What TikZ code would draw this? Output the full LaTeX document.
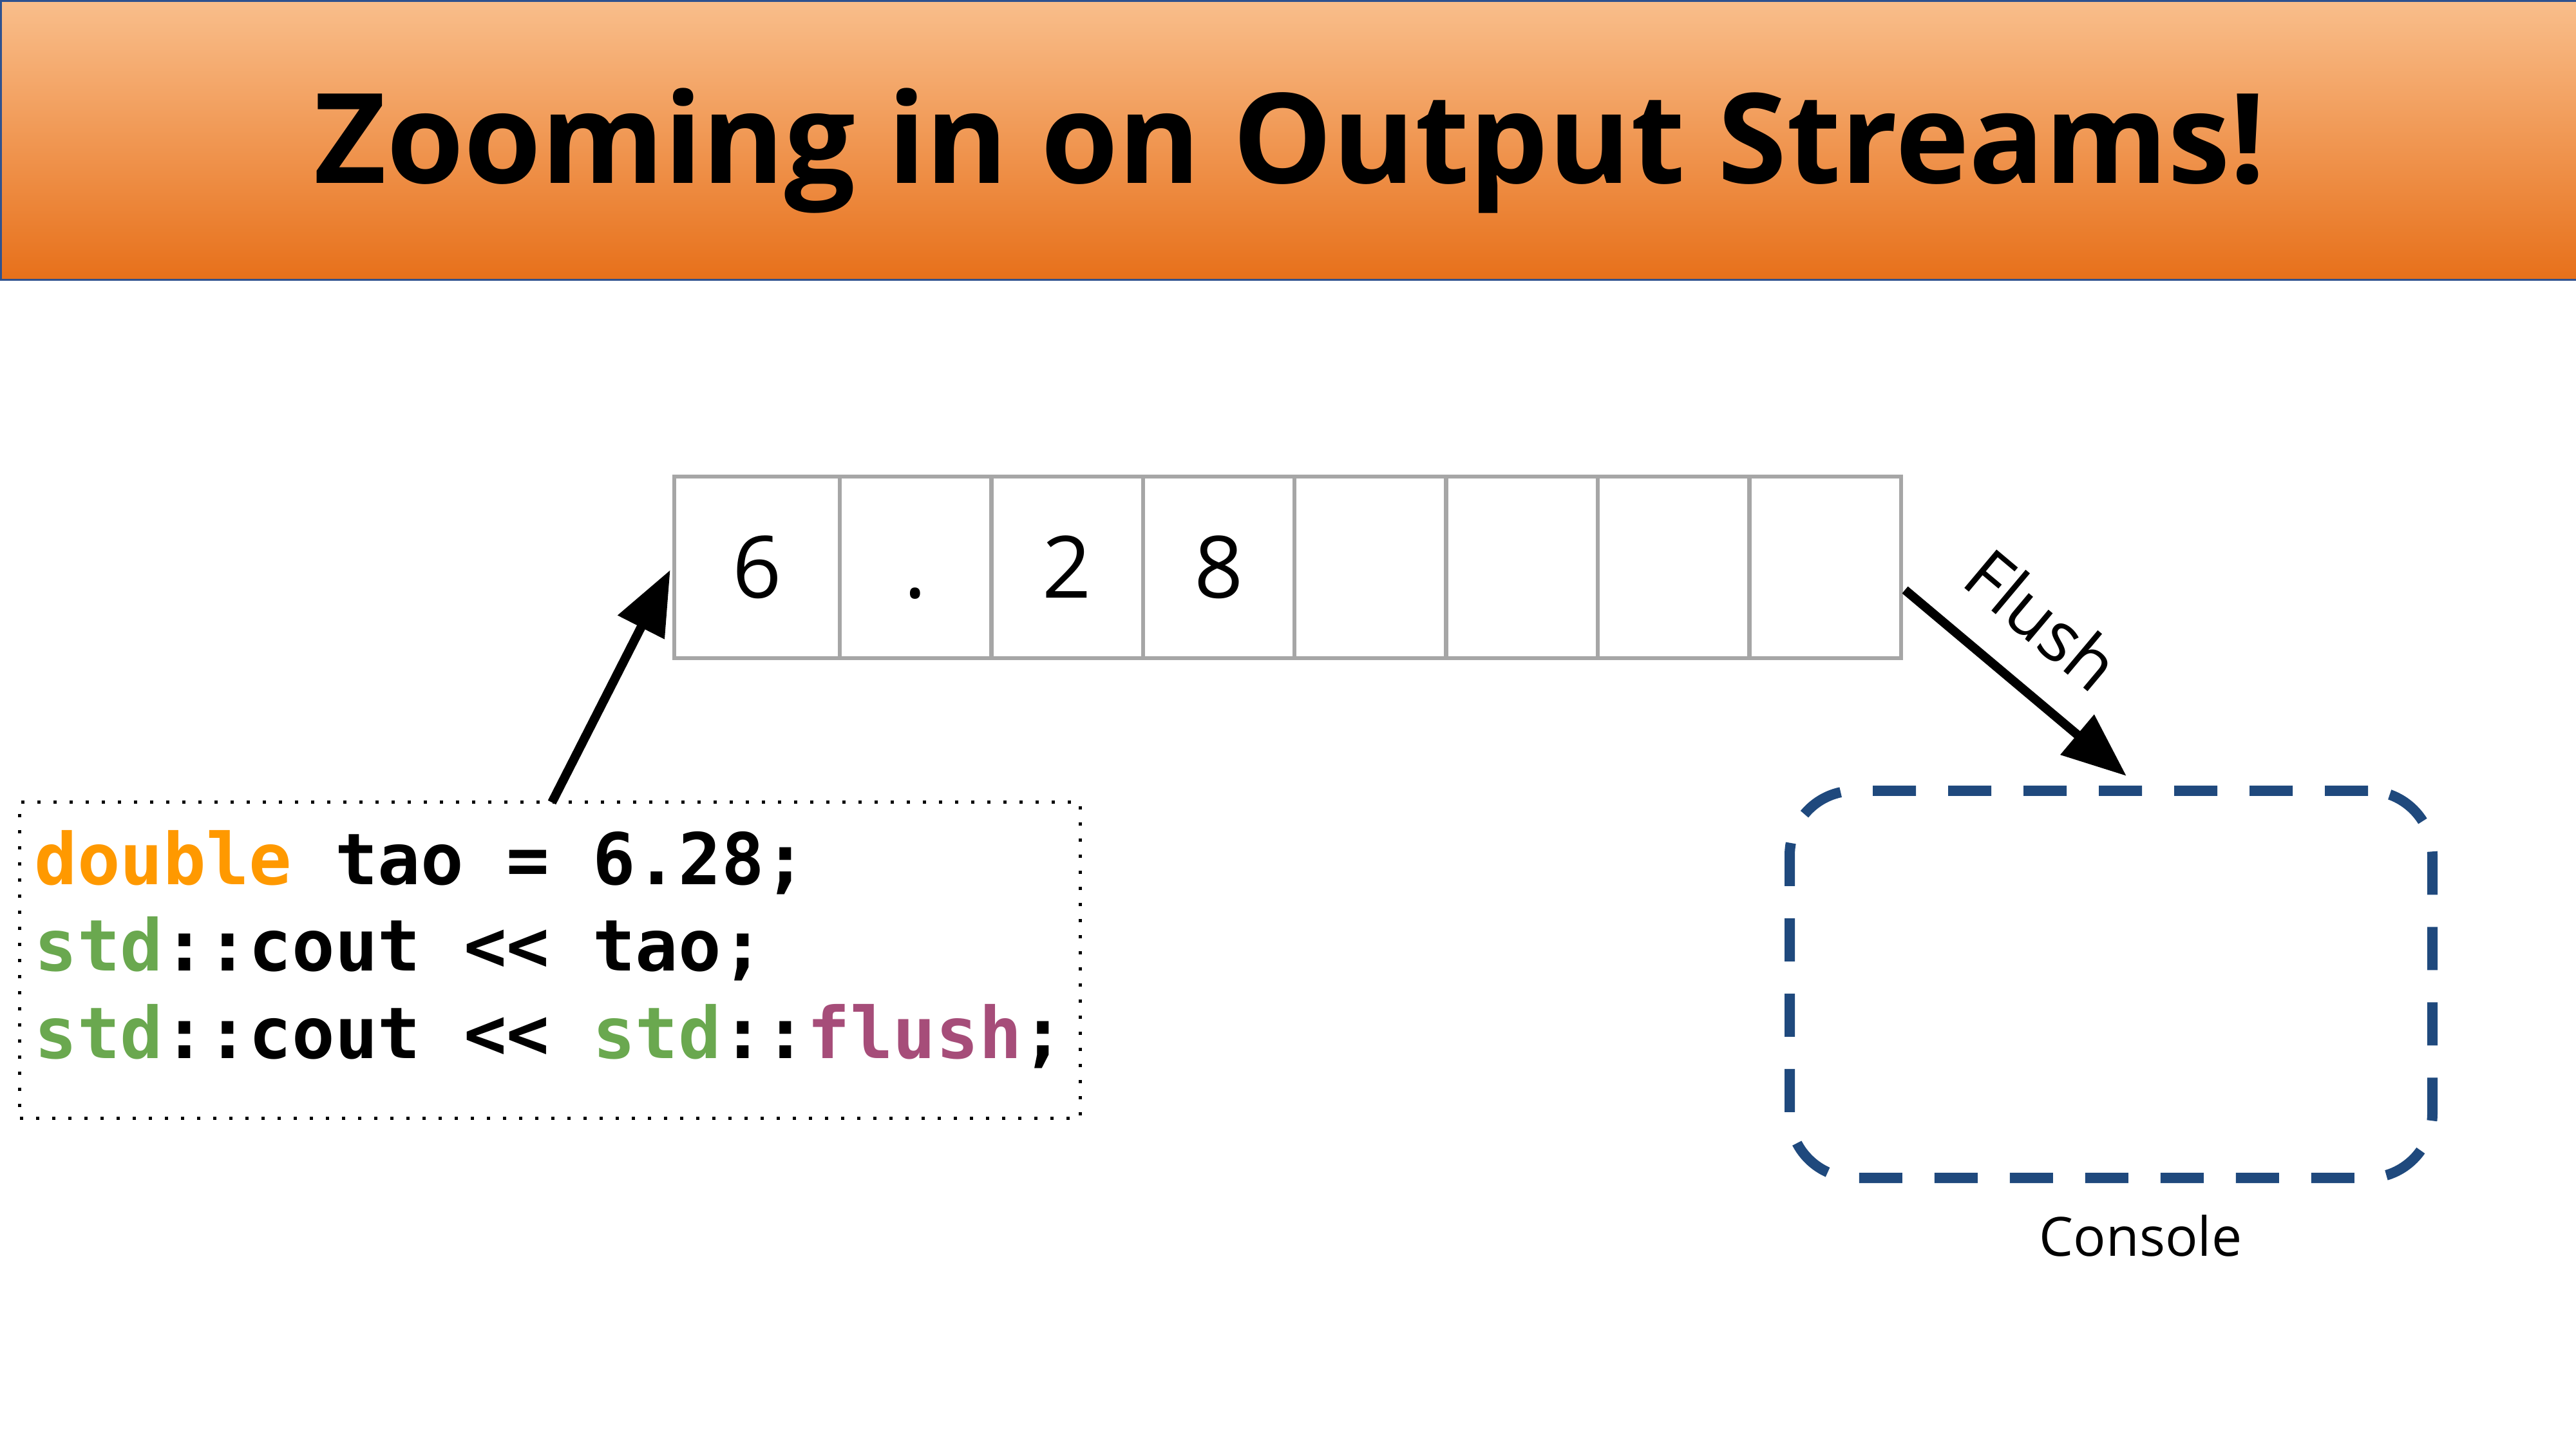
\documentclass[tikz,border=0pt]{standalone}
\usepackage{fontspec}
\setmainfont{Open Sans}
\newfontfamily\codefont{DejaVu Sans Mono}[Ligatures=TeXOff]
\usetikzlibrary{arrows.meta}

\definecolor{bandtop}{HTML}{F9BE8B}
\definecolor{bandbot}{HTML}{E7701A}
\definecolor{bandline}{HTML}{2F528F}
\definecolor{cellgray}{HTML}{A6A6A6}
\definecolor{kworange}{HTML}{FF9900}
\definecolor{nsgreen}{HTML}{6AA84F}
\definecolor{fnpurple}{HTML}{A64D79}
\definecolor{consoleblue}{HTML}{1F497D}

\begin{document}
\begin{tikzpicture}[
  cell/.style={draw=cellgray, line width=0.065cm, minimum height=2.82cm,
    inner sep=0pt, text height=0.96cm, text depth=0pt,
    font=\fontsize{38}{40}\selectfont},
  codebox/.style={draw=black, line width=0.05cm, dash pattern=on 0.05cm off 0.2cm,
    minimum width=16.46cm, minimum height=4.90cm, inner sep=0pt},
  codeline/.style={anchor=base west, inner sep=0pt,
    font=\codefont\bfseries\fontsize{31.5}{33}\selectfont},
  flow/.style={line width=0.14cm, -{Triangle[length=1.0cm, width=0.78cm]}},
  consolebox/.style={draw=consoleblue, line width=0.16cm,
    dash pattern=on 0.67cm off 0.5cm, rounded corners=1cm,
    minimum width=9.98cm, minimum height=6.01cm, inner sep=0pt}
]
\useasboundingbox[fill=white] (0,0) rectangle (40,-22.5);

% title band
\node[draw=bandline, line width=0.03cm, top color=bandtop, bottom color=bandbot,
  minimum width=40cm, minimum height=4.33cm, anchor=north west, inner sep=0pt]
  (band) at (0,0) {};
\node[anchor=base, inner sep=0pt, font=\fontsize{55.3}{60}\selectfont\bfseries]
  (title) at (20.03,-2.85) {Zooming in on Output Streams!};

% output buffer
\node[cell, minimum width=2.57cm]  (c1) at (11.755,-8.81) {6};
\node[cell, minimum width=2.354cm] (c2) at (14.217,-8.81) {.};
\node[cell, minimum width=2.354cm] (c3) at (16.571,-8.81) {2};
\node[cell, minimum width=2.354cm] (c4) at (18.925,-8.81) {8};
\node[cell, minimum width=2.354cm] (c5) at (21.279,-8.81) {};
\node[cell, minimum width=2.354cm] (c6) at (23.633,-8.81) {};
\node[cell, minimum width=2.354cm] (c7) at (25.987,-8.81) {};
\node[cell, minimum width=2.354cm] (c8) at (28.341,-8.81) {};

% code snippet
\node[codebox] (code) at (8.54,-14.91) {};
\node[codeline] (l1) at (0.53,-13.74)
  {\textcolor{kworange}{double} tao = 6.28;};
\node[codeline] (l2) at (0.53,-15.08)
  {\textcolor{nsgreen}{std}::cout << tao;};
\node[codeline] (l3) at (0.53,-16.43)
  {\textcolor{nsgreen}{std}::cout << \textcolor{nsgreen}{std}::\textcolor{fnpurple}{flush};};

% console
\node[consolebox] (console) at (32.78,-15.285) {};
\node[anchor=base, inner sep=0pt, font=\fontsize{23.9}{26}\selectfont]
  (conslbl) at (33.24,-19.50) {Console};

% arrows
\coordinate (codetap) at (8.57,-12.46);
\draw[flow] (codetap) -- ([xshift=-0.03cm,yshift=-0.04cm]c1.west);
\draw[flow] ([xshift=0.03cm,yshift=-0.35cm]c8.east)
  -- ([xshift=0.24cm,yshift=0.15cm]console.north);
\node[rotate=-40, inner sep=0pt, font=\fontsize{31}{32}\selectfont]
  (flushlbl) at (31.72,-9.62) {Flush};
\end{tikzpicture}
\end{document}
